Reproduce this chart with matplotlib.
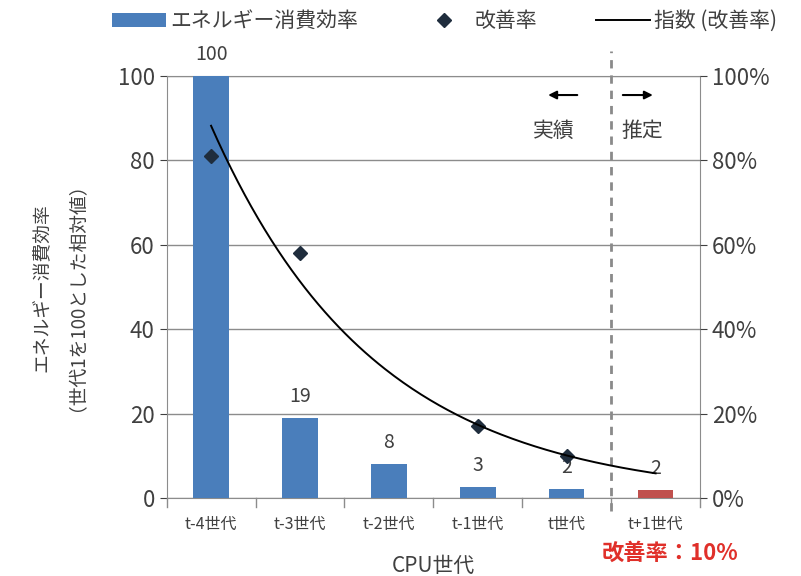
import matplotlib
matplotlib.use("Agg")
import matplotlib.pyplot as plt
import numpy as np

plt.rcParams['font.family'] = ['Noto Sans CJK JP', 'DejaVu Sans']

# data
gens = ["t-4世代", "t-3世代", "t-2世代", "t-1世代", "t世代", "t+1世代"]
efficiency = [100, 19, 8, 2.6, 2.2, 2]
eff_labels = ["100", "19", "8", "3", "2", "2"]
rate = [81, 58, np.nan, 17, 10, np.nan]   # percent
y_ticks = [0, 20, 40, 60, 80, 100]

blue = "#4a7ebb"
red = "#c0504d"
txt = "#404040"

fig = plt.figure(figsize=(8.01, 5.76), dpi=100)
ax = fig.add_axes([0.208, 0.135, 0.666, 0.733])
x = np.arange(len(gens))

colors = [blue] * 5 + [red]
ax.bar(x, efficiency, width=0.4, color=colors, zorder=3, label="エネルギー消費効率")
for xi, v, lab in zip(x, efficiency, eff_labels):
    ax.annotate(lab, (xi, v), xytext=(0, 8), textcoords="offset points",
                ha="center", va="bottom", fontsize=14, color=txt, zorder=5)

ax.set_xlim(-0.5, 5.5)
ax.set_ylim(0, 100)
ax.set_yticks(y_ticks)
ax.yaxis.grid(True, color="#8c8c8c", lw=1.0, zorder=0)
ax.tick_params(axis="y", labelsize=16, colors=txt, length=5)
ax.set_xticks(x)
ax.set_xticklabels(gens, fontsize=11.5, color=txt)
ax.tick_params(axis="x", length=0, pad=13)
for b in np.arange(-0.5, 6, 1):
    ax.plot([b, b], [0, -2], color="#8c8c8c", lw=1, clip_on=False)
for s in ax.spines.values():
    s.set_color("#8c8c8c")
ax.set_ylabel("エネルギー消費効率\n（世代1を100とした相対値）", fontsize=13.5, color=txt,
              linespacing=1.3)
ax.yaxis.set_label_coords(-0.165, 0.5)
ax.set_xlabel("CPU世代", fontsize=15, color=txt)
ax.xaxis.set_label_coords(0.5, -0.135)

ax2 = ax.twinx()
ax2.set_ylim(0, 1.0)
ax2.set_yticks(np.array(y_ticks) / 100)
ax2.set_yticklabels([f"{t}%" for t in y_ticks])
ax2.tick_params(axis="y", labelsize=16, colors=txt, length=5)
for s in ax2.spines.values():
    s.set_visible(False)

r = np.array(rate) / 100
ax2.plot(x, r, "D", color="#1f2d3d", ms=7, zorder=6, label="改善率")

# exponential trend fitted to the measured rates (like Excel's trendline)
m = ~np.isnan(r)
k, c = np.polyfit(x[m], np.log(r[m]), 1)
xs = np.linspace(0, 5, 200)
ax2.plot(xs, np.exp(c + k * xs), color="black", lw=1.4, zorder=6, label="指数 (改善率)")

# actual / estimate divider
ax.plot([4.5, 4.5], [-3, 106], color="#8a8a8a", lw=2, ls=(0, (3, 2.5)), clip_on=False, zorder=4)
ax.annotate("", xy=(3.76, 95.5), xytext=(4.15, 95.5),
            arrowprops=dict(arrowstyle="-|>", color="black", lw=1.5, mutation_scale=12))
ax.annotate("", xy=(5.0, 95.5), xytext=(4.6, 95.5),
            arrowprops=dict(arrowstyle="-|>", color="black", lw=1.5, mutation_scale=12))
ax.text(3.85, 87, "実績", fontsize=15, ha="center", va="center", color=txt)
ax.text(4.85, 87, "推定", fontsize=15, ha="center", va="center", color=txt)

fig.text(0.836, 0.04, "改善率：10%", fontsize=16, fontweight="bold", color="#e0302a",
         ha="center", va="center")

h1, l1 = ax.get_legend_handles_labels()
h2, l2 = ax2.get_legend_handles_labels()
fig.legend(h1 + h2, l1 + l2, loc="upper center", bbox_to_anchor=(0.555, 1.015), ncol=3,
           frameon=False, fontsize=15, handlelength=2.6, columnspacing=2.8, handletextpad=0.2,
           labelcolor=txt)

fig.savefig("out.png", dpi=100)
